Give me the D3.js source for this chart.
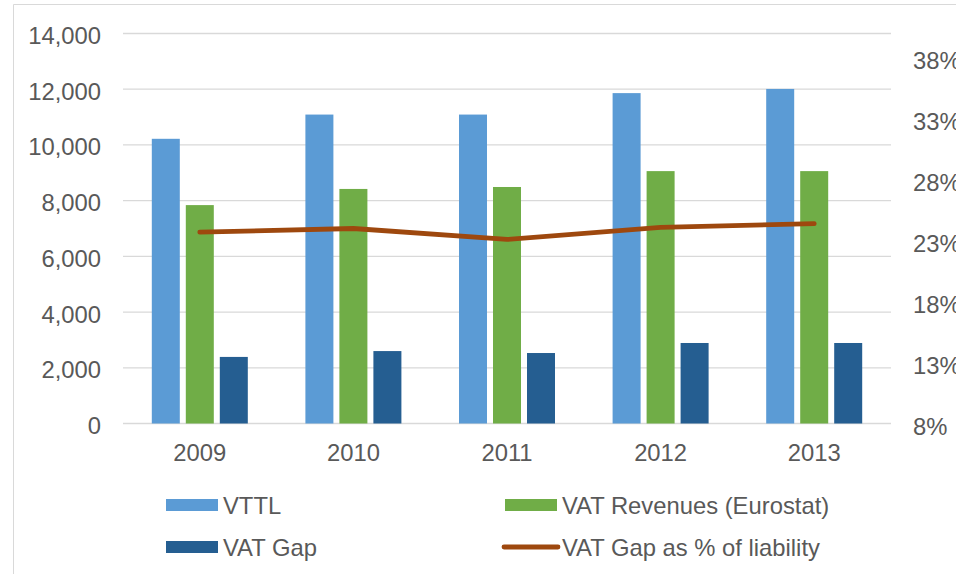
<!DOCTYPE html>
<html>
<head>
<meta charset="utf-8">
<script src="https://cdn.jsdelivr.net/npm/d3@7"></script>
<style>
  body { margin: 0; background: #fff; }
  text { font-family: "Liberation Sans", Arial, sans-serif; fill: #595959; }
</style>
</head>
<body>
<div id="chart"></div>
<script>
// Data
const years = ["2009", "2010", "2011", "2012", "2013"];
const vttl = [10220, 11090, 11090, 11860, 12010];
const vatRevenues = [7840, 8420, 8490, 9060, 9060];
const vatGap = [2390, 2600, 2530, 2890, 2890];
const gapPct = [0.237, 0.240, 0.231, 0.241, 0.244];
const leftTicks = [0, 2000, 4000, 6000, 8000, 10000, 12000, 14000];
const rightTicks = [0.08, 0.13, 0.18, 0.23, 0.28, 0.33, 0.38];

const W = 956, H = 574;
const plot = { left: 123, right: 891, top: 33.5, bottom: 423.5 };
const fontSize = 23.8;

const barSeries = [
  { name: "VTTL", values: vttl, color: "#5B9BD5" },
  { name: "VAT Revenues (Eurostat)", values: vatRevenues, color: "#70AD47" },
  { name: "VAT Gap", values: vatGap, color: "#255E91" },
];
const lineColor = "#9E480E";

const svg = d3.select("#chart").append("svg")
  .attr("width", W).attr("height", H);

svg.append("rect").attr("width", W).attr("height", H).attr("fill", "#fff");

// Chart area border (cropped on right and bottom)
svg.append("path")
  .attr("d", `M13.5,${H + 2}V4.5H${W + 2}`)
  .attr("fill", "none")
  .attr("stroke", "#D9D9D9")
  .attr("stroke-width", 1);

const x0 = d3.scaleBand().domain(years).range([plot.left, plot.right]).padding(0);
const groupW = x0.bandwidth() * 0.625;
const x1 = d3.scaleBand().domain(barSeries.map(s => s.name))
  .range([0, groupW]).paddingInner(6 / 34);

const y = d3.scaleLinear().domain([0, 14000]).range([plot.bottom, plot.top]);
const yR = d3.scaleLinear().domain([0.08, 0.40]).range([plot.bottom, plot.top]);

// Gridlines
svg.append("g")
  .selectAll("line")
  .data(leftTicks)
  .join("line")
  .attr("x1", plot.left).attr("x2", plot.right)
  .attr("y1", d => y(d)).attr("y2", d => y(d))
  .attr("stroke", "#D9D9D9")
  .attr("stroke-width", 1.3);

// Left axis labels
const leftAxis = svg.append("g")
  .attr("transform", `translate(${plot.left},0)`)
  .call(d3.axisLeft(y).tickValues(leftTicks).tickFormat(d3.format(",")).tickSize(0).tickPadding(22));
leftAxis.select(".domain").remove();
leftAxis.selectAll("text")
  .attr("font-size", fontSize).attr("dy", "0.42em")
  .style("font-family", '"Liberation Sans", Arial, sans-serif').attr("fill", "#595959");

// Right axis labels
const rightAxis = svg.append("g")
  .attr("transform", `translate(${plot.right},0)`)
  .call(d3.axisRight(yR).tickValues(rightTicks).tickFormat(d3.format(".0%")).tickSize(0).tickPadding(22));
rightAxis.select(".domain").remove();
rightAxis.selectAll("text")
  .attr("font-size", fontSize).attr("dy", "0.46em")
  .style("font-family", '"Liberation Sans", Arial, sans-serif').attr("fill", "#595959");

// Bars
barSeries.forEach(s => {
  svg.append("g")
    .selectAll("rect")
    .data(s.values.map((v, i) => ({ year: years[i], v })))
    .join("rect")
    .attr("x", d => x0(d.year) + (x0.bandwidth() - groupW) / 2 + x1(s.name))
    .attr("y", d => y(d.v))
    .attr("width", x1.bandwidth())
    .attr("height", d => y(0) - y(d.v))
    .attr("fill", s.color);
});

// Bottom axis labels
const bottomAxis = svg.append("g")
  .attr("transform", `translate(0,${plot.bottom})`)
  .call(d3.axisBottom(x0).tickSize(0).tickPadding(21));
bottomAxis.select(".domain").remove();
bottomAxis.selectAll("text")
  .attr("font-size", fontSize)
  .style("font-family", '"Liberation Sans", Arial, sans-serif').attr("fill", "#595959");

// Gap % line
const line = d3.line()
  .x((d, i) => x0(years[i]) + x0.bandwidth() / 2)
  .y(d => yR(d));

svg.append("path")
  .datum(gapPct)
  .attr("d", line)
  .attr("fill", "none")
  .attr("stroke", lineColor)
  .attr("stroke-width", 4.8)
  .attr("stroke-linecap", "round")
  .attr("stroke-linejoin", "round");

// Legend
const legendItems = [
  { name: "VTTL", color: "#5B9BD5", type: "bar", x: 166, y: 505 },
  { name: "VAT Revenues (Eurostat)", color: "#70AD47", type: "bar", x: 505, y: 505 },
  { name: "VAT Gap", color: "#255E91", type: "bar", x: 166, y: 547 },
  { name: "VAT Gap as % of liability", color: lineColor, type: "line", x: 505, y: 547 },
];

const lg = svg.append("g");
legendItems.forEach(it => {
  const g = lg.append("g").attr("transform", `translate(${it.x},${it.y})`);
  if (it.type === "bar") {
    g.append("rect").attr("x", 0).attr("y", -6).attr("width", 52).attr("height", 12).attr("fill", it.color);
  } else {
    g.append("line").attr("x1", -1).attr("x2", 53).attr("y1", 0).attr("y2", 0)
      .attr("stroke", it.color).attr("stroke-width", 4.8).attr("stroke-linecap", "round");
  }
  g.append("text")
    .attr("x", 57).attr("y", 0).attr("dy", "0.36em")
    .attr("font-size", fontSize)
    .text(it.name);
});
</script>
</body>
</html>
